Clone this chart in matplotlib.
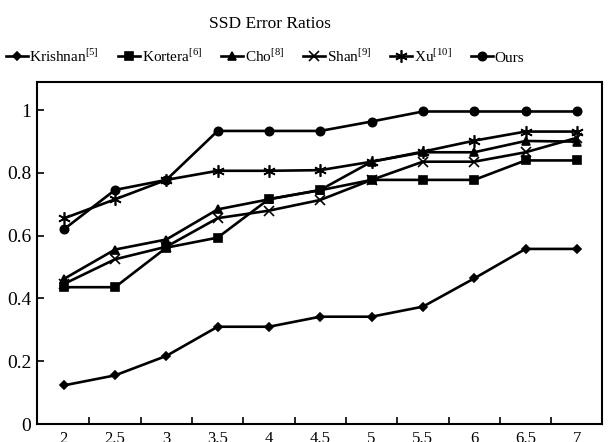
import matplotlib
matplotlib.use("Agg")
import matplotlib.pyplot as plt

plt.rcParams['font.family'] = ['Liberation Serif', 'DejaVu Serif']
plt.rcParams['mathtext.fontset'] = 'custom'
plt.rcParams['mathtext.rm'] = 'Liberation Serif'

x = [2, 2.5, 3, 3.5, 4, 4.5, 5, 5.5, 6, 6.5, 7]
x_labels = ["2", "2.5", "3", "3.5", "4", "4.5", "5", "5.5", "6", "6.5", "7"]
krishnan = [0.123, 0.155, 0.217, 0.310, 0.310, 0.342, 0.342, 0.374, 0.464, 0.558, 0.558]
kortera = [0.436, 0.436, 0.562, 0.594, 0.717, 0.745, 0.778, 0.778, 0.778, 0.840, 0.840]
cho = [0.462, 0.556, 0.588, 0.684, 0.716, 0.746, 0.836, 0.866, 0.866, 0.902, 0.900]
shan = [0.446, 0.525, 0.565, 0.656, 0.680, 0.714, 0.778, 0.836, 0.836, 0.866, 0.912]
xu = [0.655, 0.716, 0.778, 0.807, 0.807, 0.809, 0.836, 0.868, 0.903, 0.932, 0.932]
ours = [0.620, 0.746, 0.778, 0.934, 0.934, 0.934, 0.964, 0.996, 0.996, 0.996, 0.996]

labels = [r"Krishnan$^{[5]}$", r"Kortera$^{[6]}$", r"Cho$^{[8]}$",
          r"Shan$^{[9]}$", r"Xu$^{[10]}$", "Ours"]
series = [krishnan, kortera, cho, shan, xu, ours]
markers = ['D', 's', '^', 'x', (6, 2, 0), 'o']
msizes = [4.5, 5.5, 6, 7, 9, 6]

fig = plt.figure(figsize=(6.13, 4.42), dpi=100)
ax = fig.add_axes([0.0604, 0.0407, 0.9216, 0.7738])

for ys, lab, m, ms in zip(series, labels, markers, msizes):
    ax.plot(x, ys, color='black', linewidth=1.9, marker=m, markersize=ms,
            markeredgewidth=1.2, label=lab)

ax.set_xlim(1.74, 7.245)
ax.set_ylim(0, 1.09)
ax.set_xticks(x)
ax.set_xticklabels(x_labels)
ax.set_xticks([v + 0.25 for v in x[:-1]], minor=True)
ax.tick_params(axis='x', which='major', length=0, labelsize=12, pad=5)
ax.tick_params(axis='x', which='minor', direction='in', length=5, width=1.2)
ax.set_yticks([0, 0.2, 0.4, 0.6, 0.8, 1.0])
ax.set_yticklabels(["0", "0.2", "0.4", "0.6", "0.8", "1"])
ax.tick_params(axis='y', direction='in', length=5, width=1.2, labelsize=14, pad=4)
for s in ax.spines.values():
    s.set_linewidth(1.5)

fig.text(0.44, 0.946, "SSD Error Ratios", ha='center', va='center', fontsize=12.5)
fig.legend(loc='center', bbox_to_anchor=(0.432, 0.873), ncol=6, frameon=False,
           fontsize=11, handlelength=1.45, handletextpad=0.1, columnspacing=1.25,
           borderaxespad=0, borderpad=0)

fig.savefig("out.png", dpi=100)
